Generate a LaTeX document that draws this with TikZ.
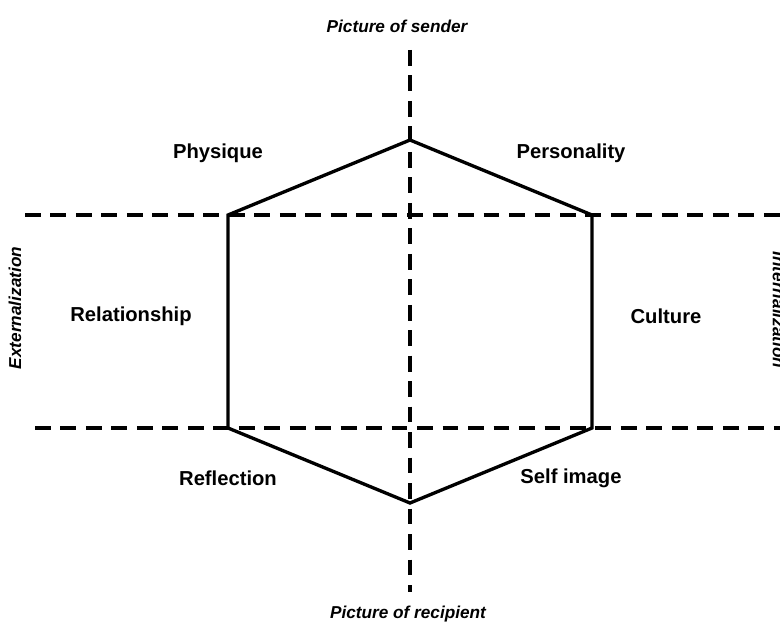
\documentclass[tikz,border=0pt]{standalone}
\usepackage{fontspec}
\setmainfont{Liberation Sans}
\usetikzlibrary{positioning}

\begin{document}
\begin{tikzpicture}[x=0.02cm, y=-0.02cm,
    axis/.style={line width=1.9pt, dash pattern=on 9pt off 5.5pt},
    hexline/.style={line width=1.9pt, line join=miter},
    facet/.style={font=\bfseries\fontsize{11.5}{13}\selectfont},
    pole/.style={font=\bfseries\itshape\fontsize{9.8}{12}\selectfont}]
    \useasboundingbox (0, 0) rectangle (780, 625);
    % axes
    \coordinate (senderEnd) at (410, 50);
    \coordinate (recipientEnd) at (410, 592);
    \coordinate (upperLeft) at (25, 215);
    \coordinate (upperRight) at (780, 215);
    \coordinate (lowerLeft) at (35, 428);
    \coordinate (lowerRight) at (780, 428);
    \draw[axis] (senderEnd) -- (recipientEnd);
    \draw[axis] (upperLeft) -- (upperRight);
    \draw[axis] (lowerLeft) -- (lowerRight);
    % hexagon
    \coordinate (top) at (410, 140);
    \coordinate (topRight) at (592, 215);
    \coordinate (bottomRight) at (592, 428);
    \coordinate (bottom) at (410, 503);
    \coordinate (bottomLeft) at (228, 428);
    \coordinate (topLeft) at (228, 215);
    \draw[hexline] (top) -- (topRight) -- (bottomRight) -- (bottom)
        -- (bottomLeft) -- (topLeft) -- cycle;
    % labels
    \node[facet] (physique) at (218, 153) {Physique};
    \node[facet] (personality) at (571, 153) {Personality};
    \node[facet] (relationship) at (131, 316) {Relationship};
    \node[facet] (culture) at (666, 316) {Culture};
    \node[facet] (reflection) at (228, 478) {Reflection};
    \node[facet] (selfimage) at (571, 478) {Self image};
    \node[pole] (sender) at (397, 26) {Picture of sender};
    \node[pole] (recipient) at (408, 614) {Picture of recipient};
    \node[pole, rotate=90] (externalization) at (15, 308) {Externalization};
    \node[pole, rotate=-90] (internalization) at (779, 310) {Internalization};
\end{tikzpicture}
\end{document}
